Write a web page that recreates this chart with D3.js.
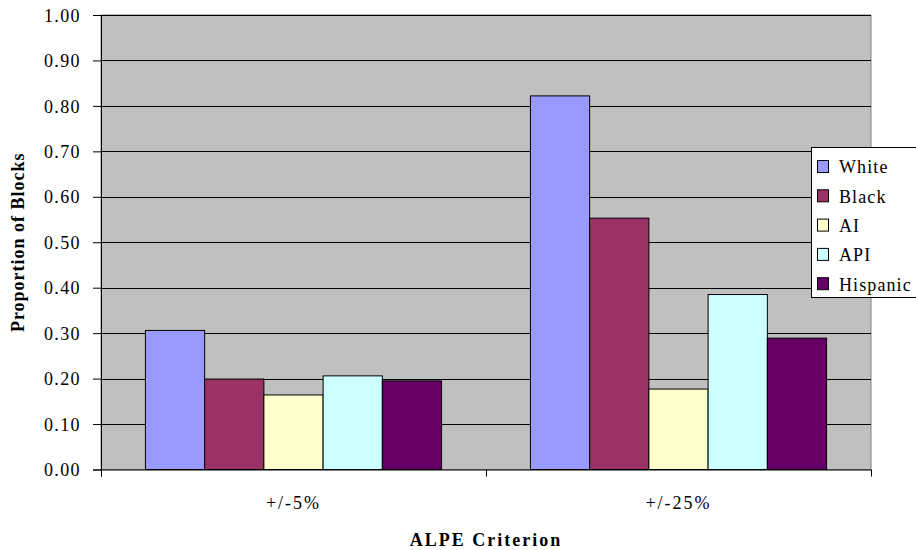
<!DOCTYPE html>
<html>
<head>
<meta charset="utf-8">
<script src="https://cdn.jsdelivr.net/npm/d3@7"></script>
<style>
  html, body { margin: 0; padding: 0; background: #ffffff; }
  svg { display: block; }
  text { font-family: "Liberation Serif", "Times New Roman", serif; fill: #000; }
</style>
</head>
<body>
<svg id="chart" width="916" height="550"></svg>
<script>
// ALPE criterion groups and the race/ethnicity series
const categories = ["+/-5%", "+/-25%"];
const seriesNames = ["White", "Black", "AI", "API", "Hispanic"];
const seriesColors = ["#9999FF", "#993366", "#FFFFCC", "#CCFFFF", "#660066"];
const whiteValues = [0.306, 0.822];
const blackValues = [0.199, 0.553];
const aiValues = [0.164, 0.177];
const apiValues = [0.206, 0.385];
const hispanicValues = [0.195, 0.289];
const yTickValues = [0, 0.1, 0.2, 0.3, 0.4, 0.5, 0.6, 0.7, 0.8, 0.9, 1.0];

const seriesValues = [whiteValues, blackValues, aiValues, apiValues, hispanicValues];
const serif = '"Liberation Serif", "Times New Roman", serif';

const svg = d3.select("#chart");
const plot = { left: 101, right: 871, top: 15, bottom: 469.5 };

const x0 = d3.scaleBand().domain(categories).range([plot.left, plot.right]).padding(0);
const x1 = d3.scaleBand().domain(seriesNames).range([0, x0.bandwidth()])
  .paddingInner(0).paddingOuter(0.75);
const y = d3.scaleLinear().domain([0, 1]).range([plot.bottom, plot.top]);

// plot background
svg.append("rect")
  .attr("x", plot.left).attr("y", plot.top)
  .attr("width", plot.right - plot.left).attr("height", plot.bottom - plot.top)
  .attr("fill", "#C0C0C0").attr("stroke", "#808080").attr("stroke-width", 1);

// horizontal gridlines
svg.append("g")
  .selectAll("line")
  .data(yTickValues.filter(v => v > 0))
  .join("line")
  .attr("x1", plot.left).attr("x2", plot.right)
  .attr("y1", d => Math.round(y(d)) + 0.5).attr("y2", d => Math.round(y(d)) + 0.5)
  .attr("stroke", "#000").attr("stroke-width", 1);

// bars
const groups = svg.append("g")
  .selectAll("g")
  .data(categories)
  .join("g")
  .attr("transform", d => `translate(${x0(d)},0)`);

groups.selectAll("rect")
  .data((c, ci) => seriesNames.map((s, si) => ({ s, si, v: seriesValues[si][ci] })))
  .join("rect")
  .attr("x", d => x1(d.s))
  .attr("y", d => y(d.v))
  .attr("width", x1.bandwidth())
  .attr("height", d => y(0) - y(d.v))
  .attr("fill", d => seriesColors[d.si])
  .attr("stroke", "#000").attr("stroke-width", 1);

// y axis
const yAxis = d3.axisLeft(y)
  .tickValues(yTickValues)
  .tickFormat(d3.format(".2f"))
  .tickSize(8).tickPadding(12);
const yg = svg.append("g").attr("transform", `translate(${plot.left},0)`).call(yAxis)
  .attr("font-family", serif);
yg.select(".domain").attr("stroke", "#000").attr("d", `M0.5,${plot.top}V${plot.bottom + 7}`);
yg.selectAll(".tick line").attr("stroke", "#000");
yg.selectAll(".tick text")
  .style("font-family", serif)
  .style("font-size", "18px").style("letter-spacing", "1.4px")
  .attr("dy", "0.34em");

// x axis
const xAxis = d3.axisBottom(x0).tickSize(0).tickPadding(0);
const xg = svg.append("g").attr("transform", `translate(0,${plot.bottom})`).call(xAxis)
  .attr("font-family", serif);
xg.select(".domain").attr("stroke", "#000").attr("d", `M${plot.left - 8},0.5H${plot.right}`);
xg.selectAll(".tick text")
  .style("font-family", serif)
  .style("font-size", "18px").style("letter-spacing", "2px")
  .attr("y", 39).attr("dy", 0);
// category boundary ticks
xg.append("g").selectAll("line")
  .data([plot.left, x0(categories[1]), plot.right])
  .join("line")
  .attr("x1", d => Math.round(d) + 0.5).attr("x2", d => Math.round(d) + 0.5)
  .attr("y1", 0).attr("y2", 7)
  .attr("stroke", "#000");

// axis titles
svg.append("text")
  .attr("x", (plot.left + plot.right) / 2).attr("y", 546)
  .attr("text-anchor", "middle")
  .style("font-size", "18px").style("font-weight", "bold").style("letter-spacing", "2px")
  .text("ALPE Criterion");

svg.append("text")
  .attr("transform", `translate(24,${(plot.top + plot.bottom) / 2}) rotate(-90)`)
  .attr("text-anchor", "middle")
  .style("font-size", "18px").style("font-weight", "bold").style("letter-spacing", "1px")
  .text("Proportion of Blocks");

// legend
const legend = svg.append("g");
legend.append("rect")
  .attr("x", 811.5).attr("y", 147.5).attr("width", 120).attr("height", 150)
  .attr("fill", "#fff").attr("stroke", "#000");
const items = legend.selectAll("g.item")
  .data(seriesNames)
  .join("g").attr("class", "item")
  .attr("transform", (d, i) => `translate(0,${167 + i * 29.3})`);
items.append("rect")
  .attr("x", 817.5).attr("y", -6.5).attr("width", 11).attr("height", 12)
  .attr("fill", (d, i) => seriesColors[i]).attr("stroke", "#000");
items.append("text")
  .attr("x", 839).attr("dy", "0.35em")
  .style("font-size", "18px").style("letter-spacing", "1.1px")
  .text(d => d);
</script>
</body>
</html>
